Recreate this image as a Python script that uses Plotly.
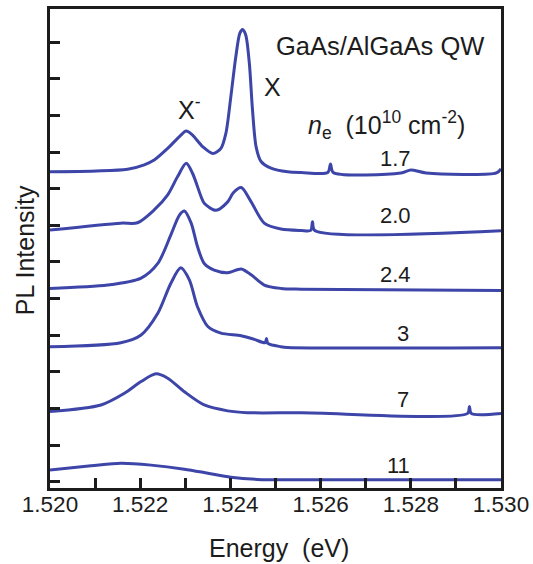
import plotly.graph_objects as go

# Photoluminescence spectra of a GaAs/AlGaAs quantum well at several
# electron densities (curves are offset vertically).
densities = ["1.7", "2.0", "2.4", "3", "7", "11"]

energy_17 = [1.52000, 1.52172, 1.52209, 1.52231, 1.52261, 1.52287, 1.52302, 1.52316,
             1.52339, 1.52361, 1.52379, 1.52390, 1.52401, 1.52412, 1.52421, 1.52427,
             1.52434, 1.52442, 1.52449, 1.52457, 1.52468, 1.52490, 1.52527, 1.52557,
             1.52616, 1.52622, 1.52628, 1.52778, 1.52800, 1.52834, 1.52990, 1.53000]
pl_17 = [8.46, 8.53, 8.65, 8.78, 9.10, 9.42, 9.57, 9.46,
         9.14, 8.96, 9.10, 9.51, 10.51, 11.60, 12.24, 12.34,
         12.19, 11.42, 10.15, 9.14, 8.74, 8.56, 8.46, 8.44,
         8.44, 8.67, 8.44, 8.43, 8.51, 8.43, 8.43, 8.54]

energy_20 = [1.52000, 1.52157, 1.52194, 1.52231, 1.52261, 1.52283, 1.52302, 1.52316,
             1.52335, 1.52342, 1.52368, 1.52394, 1.52406, 1.52424, 1.52446, 1.52475,
             1.52512, 1.52557, 1.52578, 1.52582, 1.52587, 1.53000]
pl_20 = [6.87, 7.06, 7.07, 7.42, 7.83, 8.33, 8.69, 8.42,
         7.78, 7.60, 7.41, 7.64, 7.88, 8.03, 7.64, 7.06,
         6.90, 6.86, 6.86, 7.10, 6.86, 6.85]

energy_24 = [1.52000, 1.52128, 1.52202, 1.52239, 1.52268, 1.52287, 1.52298, 1.52313,
             1.52327, 1.52342, 1.52364, 1.52394, 1.52424, 1.52446, 1.52475, 1.52512,
             1.52557, 1.53000]
pl_24 = [5.28, 5.37, 5.56, 5.96, 6.74, 7.28, 7.39, 7.06,
         6.42, 5.96, 5.78, 5.71, 5.81, 5.65, 5.37, 5.28,
         5.26, 5.22]

energy_3 = [1.52000, 1.52157, 1.52202, 1.52239, 1.52268, 1.52290, 1.52309, 1.52327,
            1.52350, 1.52379, 1.52424, 1.52453, 1.52477, 1.52480, 1.52483, 1.52512,
            1.52527, 1.53000]
pl_3 = [3.69, 3.80, 4.01, 4.60, 5.42, 5.84, 5.51, 4.78,
        4.24, 4.06, 3.99, 3.89, 3.80, 3.91, 3.78, 3.69,
        3.67, 3.66]

energy_7 = [1.52000, 1.52113, 1.52165, 1.52202, 1.52235, 1.52261, 1.52298, 1.52342,
            1.52394, 1.52438, 1.52557, 1.52926, 1.52930, 1.52934, 1.53000]
pl_7 = [1.92, 2.10, 2.42, 2.74, 2.95, 2.83, 2.46, 2.10,
        1.94, 1.89, 1.89, 1.87, 2.06, 1.87, 1.87]

energy_11 = [1.52000, 1.52091, 1.52157, 1.52224, 1.52298, 1.52350, 1.52401, 1.52460,
             1.52557, 1.53000]
pl_11 = [0.33, 0.44, 0.51, 0.46, 0.35, 0.24, 0.13, 0.07,
         0.06, 0.06]

spectra = [(energy_17, pl_17), (energy_20, pl_20), (energy_24, pl_24),
           (energy_3, pl_3), (energy_7, pl_7), (energy_11, pl_11)]

x_ticks = [1.520, 1.522, 1.524, 1.526, 1.528, 1.530]
x_tick_text = ["1.520", "1.522", "1.524", "1.526", "1.528", "1.530"]
y_ticks = list(range(13))

LINE = "#3d46a8"
INK = "#1c1c1c"
FONT = "Liberation Sans, Arial, sans-serif"

fig = go.Figure()
for (e, pl), n in zip(spectra, densities):
    fig.add_trace(go.Scatter(
        x=e, y=pl, mode="lines", name=n,
        line=dict(color=LINE, width=3, shape="spline", smoothing=0.8),
        hoverinfo="skip", showlegend=False,
    ))


def label(x, y, text, size, ref="data", angle=0):
    refs = ("x", "y") if ref == "data" else ("paper", "paper")
    return dict(x=x, y=y, xref=refs[0], yref=refs[1], text=text, showarrow=False,
                xanchor="center", yanchor="middle", textangle=angle,
                font=dict(size=size, color=INK, family=FONT))


# density labels beside each spectrum
label_pos = {"1.7": (1.52765, 8.82), "2.0": (1.52765, 7.28), "2.4": (1.52765, 5.67),
             "3": (1.52783, 4.06), "7": (1.52783, 2.25), "11": (1.52772, 0.44)}
annotations = [label(*label_pos[n], n, 22) for n in densities]

annotations += [
    label(1.52731, 11.88, "GaAs/AlGaAs QW", 25.5),
    label(1.52494, 10.77, "X", 25),
    label(1.52310, 10.2, "X<sup>-</sup>", 25),
    label(1.52745, 9.74,
          "<i>n</i><sub>e</sub>\u00a0\u00a0(10<sup>10</sup> cm<sup>-2</sup>)", 25),
    label(-0.055, 0.497, "PL Intensity", 25, ref="paper", angle=-90),
    label(0.508, -0.125, "Energy\u00a0\u00a0(eV)", 25, ref="paper"),
]

fig.update_layout(
    width=533, height=564,
    margin=dict(l=50, r=32, t=9, b=76, autoexpand=False),
    paper_bgcolor="white", plot_bgcolor="white",
    annotations=annotations,
    font=dict(family=FONT, color=INK),
)
fig.update_xaxes(
    range=[1.520, 1.530], tickvals=x_ticks, ticktext=x_tick_text,
    ticks="inside", ticklen=10, tickwidth=2.5, tickcolor=INK,
    minor=dict(ticks="inside", dtick=0.001, tick0=1.520, ticklen=10, tickwidth=2.5, tickcolor=INK),
    showline=True, linewidth=2.5, linecolor=INK, mirror=True,
    showgrid=False, zeroline=False, ticklabelstandoff=-6,
    tickfont=dict(size=22.5, color=INK, family=FONT),
)
fig.update_yaxes(
    range=[-0.164, 12.90], tickvals=y_ticks, showticklabels=False,
    ticks="inside", ticklen=10, tickwidth=2.5, tickcolor=INK,
    showline=True, linewidth=2.5, linecolor=INK, mirror=True,
    showgrid=False, zeroline=False,
)

fig.write_html("out.html")
